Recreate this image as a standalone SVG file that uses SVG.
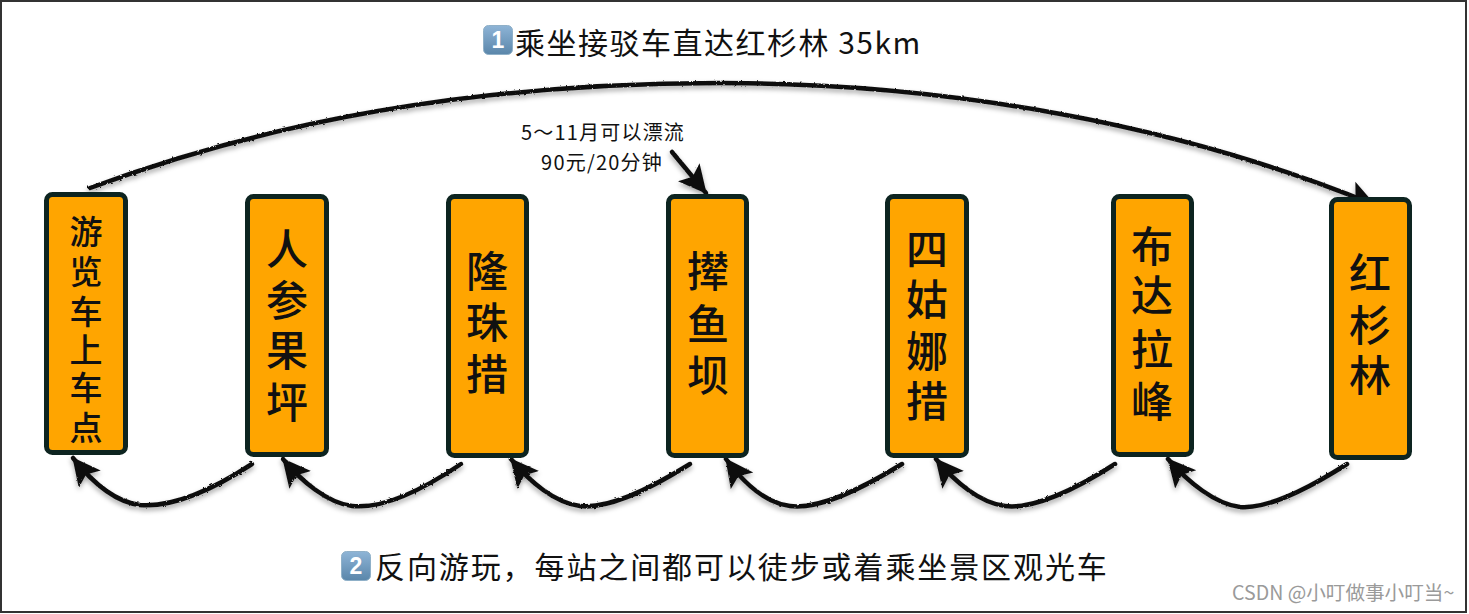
<svg xmlns="http://www.w3.org/2000/svg" width="1469" height="614" viewBox="0 0 1469 614">
<style>
text{font-family:"Noto Sans CJK SC","Liberation Sans",sans-serif;fill:#111}
.box{fill:#ffa500;stroke:#0d2420;stroke-width:5}
.lb{text-anchor:middle;font-weight:500}
.s{font-size:33px}.m{font-size:42px}
.cap{font-size:30px}
.note{font-size:20px;text-anchor:middle}
.key{fill:url(#kg);stroke:#8fb0c8;stroke-width:1}
.kn{fill:#fff;font-size:23px;font-weight:700;text-anchor:middle;font-family:"Liberation Sans",sans-serif}
.c{fill:none;stroke:#111;stroke-width:4.500;stroke-linecap:round;marker-end:url(#a)}
</style>
<defs>
<linearGradient id="kg" x1="0" y1="0" x2="0" y2="1"><stop offset="0" stop-color="#8eb4d6"/><stop offset="1" stop-color="#5a86aa"/></linearGradient>
<marker id="a" viewBox="0 0 30 30" refX="27" refY="15" markerWidth="30" markerHeight="30" markerUnits="userSpaceOnUse" orient="auto"><path d="M0 1L28 15L0 29L6 15Z" fill="#111"/></marker>
<filter id="rough" x="-5%" y="-20%" width="110%" height="150%">
<feTurbulence type="fractalNoise" baseFrequency="0.35" numOctaves="2" seed="4" result="n"/>
<feDisplacementMap in="SourceGraphic" in2="n" scale="2.5" result="d"/>
<feDropShadow in="d" dx="0" dy="3" stdDeviation="2.5" flood-color="#000" flood-opacity="0.35"/>
</filter>
</defs>
<rect width="1469" height="614" fill="#fff"/>
<g id="frame" fill="none" stroke="#333" stroke-width="2"><path d="M1 1H1466V612H1V1Z"/></g>
<g id="connectors" filter="url(#rough)">
<path class="c" d="M90 188C300 110 520 83 720 83C950 83 1180 125 1375 205"/>
<path class="c" d="M252 464C200 498 165 507 140 505C115 502 92 482 73 458"/>
<path class="c" d="M461 464C415 495 380 509 352 506C328 503 302 482 283 459"/>
<path class="c" d="M690 464C640 495 605 509 580 506C555 503 530 482 511 459"/>
<path class="c" d="M902 464C850 496 815 509 790 506C765 503 743 482 726 459"/>
<path class="c" d="M1115 464C1065 496 1030 509 1005 506C980 503 955 482 936 459"/>
<path class="c" d="M1347 464C1300 494 1265 509 1240 507C1215 504 1188 482 1168 459"/>
<path class="c" d="M672 152L706 193"/>
</g>
<g id="n1"><rect class="box" x="46.500" y="194.500" width="79" height="258" rx="6"/><text class="lb s"><tspan x="86" y="244">游</tspan><tspan x="86" y="284">览</tspan><tspan x="86" y="324">车</tspan><tspan x="86" y="362">上</tspan><tspan x="86" y="400">车</tspan><tspan x="86" y="440">点</tspan></text></g>
<g id="n2"><rect class="box" x="247.500" y="196.500" width="79" height="258" rx="6"/><text class="lb m"><tspan x="287" y="265">人</tspan><tspan x="287" y="316">参</tspan><tspan x="287" y="366">果</tspan><tspan x="287" y="418">坪</tspan></text></g>
<g id="n3"><rect class="box" x="448.500" y="196.500" width="78" height="259" rx="6"/><text class="lb m"><tspan x="487" y="287">隆</tspan><tspan x="487" y="338">珠</tspan><tspan x="487" y="390">措</tspan></text></g>
<g id="n4"><rect class="box" x="668.500" y="196.500" width="78" height="259" rx="6"/><text class="lb m"><tspan x="708" y="287">撵</tspan><tspan x="708" y="340">鱼</tspan><tspan x="708" y="391">坝</tspan></text></g>
<g id="n5"><rect class="box" x="887.500" y="196.500" width="79" height="259" rx="6"/><text class="lb m"><tspan x="927" y="265">四</tspan><tspan x="927" y="315">姑</tspan><tspan x="927" y="367">娜</tspan><tspan x="927" y="417">措</tspan></text></g>
<g id="n6"><rect class="box" x="1113.500" y="196.500" width="78" height="258" rx="6"/><text class="lb m"><tspan x="1152" y="262">布</tspan><tspan x="1152" y="311">达</tspan><tspan x="1152" y="365">拉</tspan><tspan x="1152" y="417">峰</tspan></text></g>
<g id="n7"><rect class="box" x="1331.500" y="199.500" width="78" height="258" rx="6"/><text class="lb m"><tspan x="1370" y="289">红</tspan><tspan x="1370" y="341">杉</tspan><tspan x="1370" y="391">林</tspan></text></g>
<g id="title1"><rect class="key" x="483.500" y="25.500" width="29" height="29" rx="5"/><text class="kn" x="498" y="48">1</text><text class="cap" x="515" y="54" letter-spacing="1.500">乘坐接驳车直达红杉林 35km</text></g>
<g id="title2"><rect class="key" x="341.500" y="551.500" width="29" height="29" rx="5"/><text class="kn" x="356" y="574">2</text><text class="cap" x="375" y="578" letter-spacing="1.900">反向游玩，每站之间都可以徒步或着乘坐景区观光车</text></g>
<g id="note"><text class="note" x="603" y="140" letter-spacing="1.200">5～11月可以漂流</text><text class="note" x="602" y="170" letter-spacing="1.200">90元/20分钟</text></g>
<text id="watermark" x="1232" y="600" font-size="19.600" style="fill:#9a9a9a">CSDN @小叮做事小叮当~</text>
</svg>
